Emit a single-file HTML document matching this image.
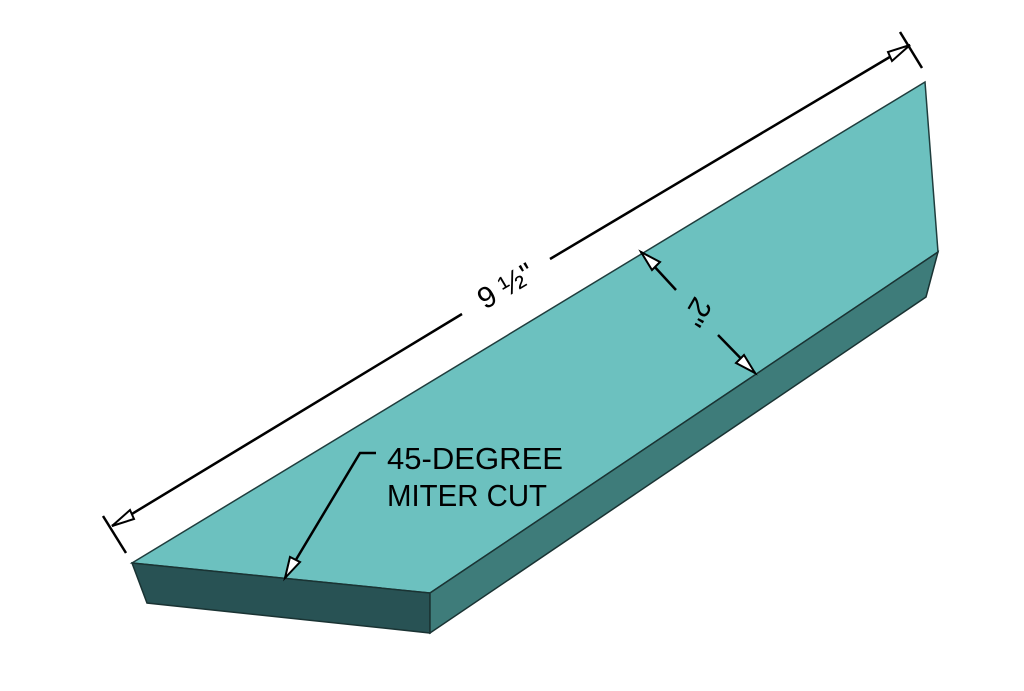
<!DOCTYPE html>
<html><head><style>html,body{margin:0;padding:0;background:#fff}svg{display:block}</style></head>
<body>
<svg width="1024" height="691" viewBox="0 0 1024 691" xmlns="http://www.w3.org/2000/svg">
<polygon points="132,563 925,82 938,252 430,593" fill="#6cc1bf" stroke="#1f3d3d" stroke-width="1.5"/>
<polygon points="132,563 430,593 430,633 147,603" fill="#285254" stroke="#1a3333" stroke-width="1.5"/>
<polygon points="430,593 938,252 926,297 430,633" fill="#3e7c7a" stroke="#1a3333" stroke-width="1.5"/>
<g stroke="#000" stroke-width="2.5" fill="none">
<line x1="103" y1="516" x2="126" y2="553"/>
<line x1="900" y1="32" x2="922" y2="68"/>
<line x1="112" y1="526" x2="462" y2="314"/>
<line x1="550" y1="259" x2="910" y2="45"/>
<line x1="641" y1="252" x2="676" y2="290"/>
<line x1="718" y1="335" x2="755" y2="373"/>
<polyline points="376,453 360,453 285,578"/>
</g>
<g fill="#fff" stroke="#000" stroke-width="2">
<polygon points="112,526 130,510 134,519"/>
<polygon points="910,45 892,61 888,52"/>
<polygon points="641,252 660,262 652,270"/>
<polygon points="755,373 736,363 744,355"/>
<polygon points="285,578 290,557 300,562"/>
</g>
<g font-family="Liberation Sans, sans-serif" fill="#000">
<text x="506" y="296" font-size="30" text-anchor="middle" transform="rotate(-30.6 506 286)">9 ½"</text>
<text x="697" y="322" font-size="30" text-anchor="middle" transform="rotate(120 697 312)">2"</text>
<text x="387" y="469" font-size="31" textLength="176" lengthAdjust="spacingAndGlyphs">45-DEGREE</text>
<text x="387" y="506" font-size="31" textLength="160" lengthAdjust="spacingAndGlyphs">MITER CUT</text>
</g>
</svg>
</body></html>
